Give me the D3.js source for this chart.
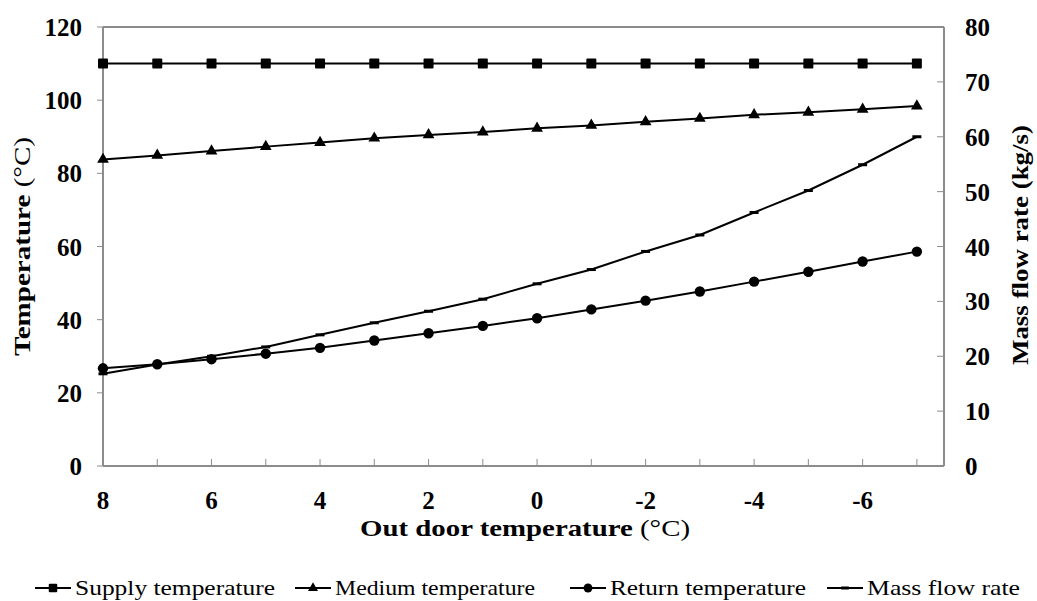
<!DOCTYPE html>
<html>
<head>
<meta charset="utf-8">
<script src="https://cdn.jsdelivr.net/npm/d3@7"></script>
<style>
  body { margin: 0; background: #fff; }
</style>
</head>
<body>
<div id="chart"></div>
<script>
const outdoor = [8, 7, 6, 5, 4, 3, 2, 1, 0, -1, -2, -3, -4, -5, -6, -7]
const supplyTemp = [110, 110, 110, 110, 110, 110, 110, 110, 110, 110, 110, 110, 110, 110, 110, 110]
const mediumTemp = [83.8, 84.9, 86.1, 87.3, 88.4, 89.6, 90.5, 91.3, 92.3, 93.1, 94.1, 95.0, 96.0, 96.7, 97.5, 98.4]
const returnTemp = [26.7, 27.8, 29.2, 30.7, 32.3, 34.3, 36.3, 38.3, 40.4, 42.8, 45.2, 47.7, 50.4, 53.1, 55.9, 58.6]
const massFlow = [16.8, 18.5, 20.0, 21.7, 23.9, 26.1, 28.2, 30.4, 33.2, 35.8, 39.1, 42.1, 46.2, 50.2, 54.9, 60.0]
const xTickLabels = [8, 6, 4, 2, 0, -2, -4, -6]
const leftTicks = [0, 20, 40, 60, 80, 100, 120]
const rightTicks = [0, 10, 20, 30, 40, 50, 60, 70, 80]

const margin = { top: 27, left: 103, right: 93, bottom: 135 }
const width = 1037 - margin.left - margin.right
const height = 601 - margin.top - margin.bottom
const axisColor = '#8c8c8c'
const serif = "'Liberation Serif', 'DejaVu Serif', 'Times New Roman', serif"

const svg = d3
  .select('#chart')
  .append('svg')
  .attr('width', 1037)
  .attr('height', 601)
  .style('font-family', serif)

const g = svg
  .append('g')
  .attr('transform', 'translate(' + margin.left + ',' + margin.top + ')')

const xScale = d3.scaleLinear().domain([8, -7.5]).range([0, width])
const yLeft = d3.scaleLinear().domain([0, 120]).range([height, 0])
const yRight = d3.scaleLinear().domain([0, 80]).range([height, 0])

// frame top line
g.append('line')
  .attr('x1', 0)
  .attr('x2', width)
  .attr('y1', 0)
  .attr('y2', 0)
  .attr('stroke', axisColor)
  .attr('stroke-width', 2)

// x axis: inside ticks at each degree, labels on even ones
const xAxis = g.append('g').attr('transform', 'translate(0,' + height + ')')
xAxis
  .append('line')
  .attr('x1', 0)
  .attr('x2', width)
  .attr('stroke', axisColor)
  .attr('stroke-width', 2)
xAxis
  .selectAll('.xtick')
  .data(outdoor)
  .enter()
  .append('line')
  .attr('class', 'xtick')
  .attr('x1', d => xScale(d))
  .attr('x2', d => xScale(d))
  .attr('y1', 0)
  .attr('y2', -7)
  .attr('stroke', axisColor)
  .attr('stroke-width', 1)
xAxis
  .selectAll('.xlabel')
  .data(xTickLabels)
  .enter()
  .append('text')
  .attr('class', 'xlabel')
  .attr('x', d => xScale(d))
  .attr('y', 43)
  .attr('text-anchor', 'middle')
  .style('font-size', '25px')
  .style('font-weight', 700)
  .text(d => d)

// left axis
const leftAxis = g.append('g')
leftAxis
  .append('line')
  .attr('y1', 0)
  .attr('y2', height)
  .attr('stroke', axisColor)
  .attr('stroke-width', 2)
leftAxis
  .selectAll('.ltick')
  .data(leftTicks)
  .enter()
  .append('line')
  .attr('x1', -6)
  .attr('x2', 0)
  .attr('y1', d => yLeft(d))
  .attr('y2', d => yLeft(d))
  .attr('stroke', axisColor)
leftAxis
  .selectAll('.llabel')
  .data(leftTicks)
  .enter()
  .append('text')
  .attr('x', -21)
  .attr('y', d => yLeft(d))
  .attr('dy', '0.36em')
  .attr('text-anchor', 'end')
  .style('font-size', '25px')
  .style('font-weight', 700)
  .text(d => d)

// right axis
const rightAxis = g.append('g').attr('transform', 'translate(' + width + ',0)')
rightAxis
  .append('line')
  .attr('y1', 0)
  .attr('y2', height)
  .attr('stroke', axisColor)
  .attr('stroke-width', 2)
rightAxis
  .selectAll('.rtick')
  .data(rightTicks)
  .enter()
  .append('line')
  .attr('x1', -7)
  .attr('x2', 0)
  .attr('y1', d => yRight(d))
  .attr('y2', d => yRight(d))
  .attr('stroke', axisColor)
rightAxis
  .selectAll('.rlabel')
  .data(rightTicks)
  .enter()
  .append('text')
  .attr('x', 21)
  .attr('y', d => yRight(d))
  .attr('dy', '0.36em')
  .attr('text-anchor', 'start')
  .style('font-size', '25px')
  .style('font-weight', 700)
  .text(d => d)

// axis titles
const xTitle = svg
  .append('text')
  .attr('x', 360)
  .attr('y', 536)
  .attr('font-size', 23)
  .attr('textLength', 330)
  .attr('lengthAdjust', 'spacingAndGlyphs')
xTitle.append('tspan').attr('font-weight', 700).text('Out door temperature ')
xTitle.append('tspan').text('(°C)')

const yTitle = svg
  .append('text')
  .attr('transform', 'translate(30,356) rotate(-90)')
  .attr('font-size', 23)
  .attr('textLength', 219)
  .attr('lengthAdjust', 'spacingAndGlyphs')
yTitle.append('tspan').attr('font-weight', 700).text('Temperature ')
yTitle.append('tspan').text('(°C)')

svg
  .append('text')
  .attr('transform', 'translate(1028,365) rotate(-90)')
  .attr('font-size', 23)
  .attr('font-weight', 700)
  .attr('textLength', 240)
  .attr('lengthAdjust', 'spacingAndGlyphs')
  .text('Mass flow rate (kg/s)')

// series
const series = [
  { name: 'Supply temperature', values: supplyTemp, y: yLeft, marker: 'square' },
  { name: 'Medium temperature', values: mediumTemp, y: yLeft, marker: 'triangle' },
  { name: 'Return temperature', values: returnTemp, y: yLeft, marker: 'circle' },
  { name: 'Mass flow rate', values: massFlow, y: yRight, marker: 'dash' }
]

function drawMarker(sel, type, scale) {
  const k = scale || 1
  if (type === 'square') {
    sel.append('rect')
      .attr('x', -5 * k).attr('y', -5 * k)
      .attr('width', 10 * k).attr('height', 10 * k)
      .attr('rx', 1)
      .attr('fill', '#000')
  } else if (type === 'triangle') {
    sel.append('path')
      .attr('d', d3.symbol().type(d3.symbolTriangle).size(60 * k * k))
      .attr('fill', '#000')
  } else if (type === 'circle') {
    sel.append('circle').attr('r', 5.2 * k).attr('fill', '#000')
  } else {
    sel.append('rect')
      .attr('x', -4.5 * k).attr('y', -1.5)
      .attr('width', 9 * k).attr('height', 3)
      .attr('fill', '#000')
  }
}

series.forEach(s => {
  const pts = outdoor.map((d, i) => ({ x: d, v: s.values[i] }))
  const line = d3
    .line()
    .x(d => xScale(d.x))
    .y(d => s.y(d.v))
  g.append('path')
    .datum(pts)
    .attr('d', line)
    .attr('fill', 'none')
    .attr('stroke', '#000')
    .attr('stroke-width', 2)
  g.selectAll(null)
    .data(pts)
    .enter()
    .append('g')
    .attr('transform', d => 'translate(' + xScale(d.x) + ',' + s.y(d.v) + ')')
    .each(function() {
      drawMarker(d3.select(this), s.marker)
    })
})

// legend
const legendX = [35, 295, 570, 827]
const legendW = [200, 200, 196, 153]
const legend = svg.append('g').attr('transform', 'translate(0,588)')
series.forEach((s, i) => {
  const item = legend.append('g').attr('transform', 'translate(' + legendX[i] + ',0)')
  item.append('line')
    .attr('x1', 0).attr('x2', 36)
    .attr('stroke', '#000').attr('stroke-width', 2)
  const m = item.append('g').attr('transform', 'translate(18,0)')
  drawMarker(m, s.marker, 0.85)
  item.append('text')
    .attr('x', 40)
    .attr('dy', '0.34em')
    .attr('font-size', 22)
    .attr('textLength', legendW[i])
    .attr('lengthAdjust', 'spacingAndGlyphs')
    .text(s.name)
})
</script>
</body>
</html>
